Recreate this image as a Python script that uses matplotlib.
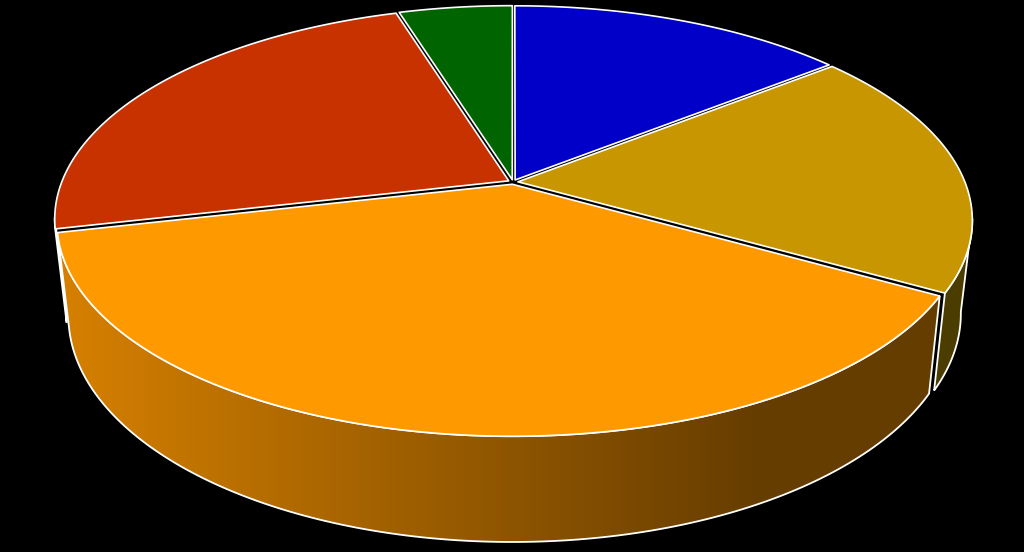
import numpy as np
import matplotlib
matplotlib.use("Agg")
import matplotlib.pyplot as plt
from matplotlib.colors import LinearSegmentedColormap
from matplotlib.patches import Polygon

# Slices, clockwise from 12 o'clock
slices = ["blue", "gold", "orange", "red", "green"]
shares = [14.3, 18.9, 38.2, 23.8, 4.8]
top_colors = ["#0000C8", "#C89600", "#FF9900", "#C83200", "#006400"]
side_colors = ["#000064", "#4B3C00", "#663D00", "#641900", "#003200"]

# Perspective of the disc, in pixels
CX, CY = 513, 182
A, B, P = 206.0, 447.0, 0.179
EXPLODE = 0.011
DROP, KX, KY = 91, 0.975, 1.058


def project(u, v, bottom=False):
    w = 1 + P * v
    x, y = B * u / w, -A * v / w
    if bottom:
        return CX + KX * x, CY + DROP + KY * y
    return CX + x, CY + y


fig = plt.figure(figsize=(10.24, 5.52), dpi=100, facecolor="black")
ax = fig.add_axes([0, 0, 1, 1])
ax.set_xlim(0, 1024)
ax.set_ylim(552, 0)
ax.axis("off")

edges = np.cumsum([0] + shares) / sum(shares) * 2 * np.pi
orange_fade = LinearSegmentedColormap.from_list("fade", ["#D68000", "#663D00"])

# sides first (back to front), tops go over them
for i in [1, 3, 2]:
    start, end = edges[i], edges[i + 1]
    # only the part outside the top's silhouette shows
    if slices[i] == "gold":
        start = np.radians(100)
    if slices[i] == "red":
        end = np.radians(260)
    mid = (edges[i] + edges[i + 1]) / 2
    du, dv = EXPLODE * np.sin(mid), EXPLODE * np.cos(mid)
    t = np.linspace(start, end, 150)
    tx, ty = project(np.sin(t) + du, np.cos(t) + dv)
    bx, by = project(np.sin(t) + du, np.cos(t) + dv, bottom=True)
    pts = np.vstack([np.column_stack([tx, ty]), np.column_stack([bx, by])[::-1]])
    if slices[i] == "orange":
        patch = Polygon(pts, closed=True, facecolor="none", edgecolor="none")
        ax.add_patch(patch)
        grad = np.clip((np.arange(1024) - 60) / 700, 0, 1).reshape(1, -1)
        im = ax.imshow(grad, cmap=orange_fade, extent=[0, 1024, 552, 0], aspect="auto", zorder=2)
        im.set_clip_path(patch)
        ax.set_xlim(0, 1024)
        ax.set_ylim(552, 0)
        ax.add_patch(Polygon(pts, closed=True, facecolor="none", edgecolor="white", lw=1.3, zorder=3))
    else:
        ax.add_patch(Polygon(pts, closed=True, facecolor=side_colors[i], edgecolor="white", lw=1.3, zorder=1))

for i in range(len(shares)):
    mid = (edges[i] + edges[i + 1]) / 2
    du, dv = EXPLODE * np.sin(mid), EXPLODE * np.cos(mid)
    t = np.linspace(edges[i], edges[i + 1], 200)
    u = np.r_[0, np.sin(t)] + du
    v = np.r_[0, np.cos(t)] + dv
    x, y = project(u, v)
    ax.add_patch(Polygon(np.column_stack([x, y]), closed=True, facecolor=top_colors[i],
                         edgecolor="white", lw=1.2, joinstyle="round", zorder=4))

fig.savefig("out.png", dpi=100, facecolor="black")
